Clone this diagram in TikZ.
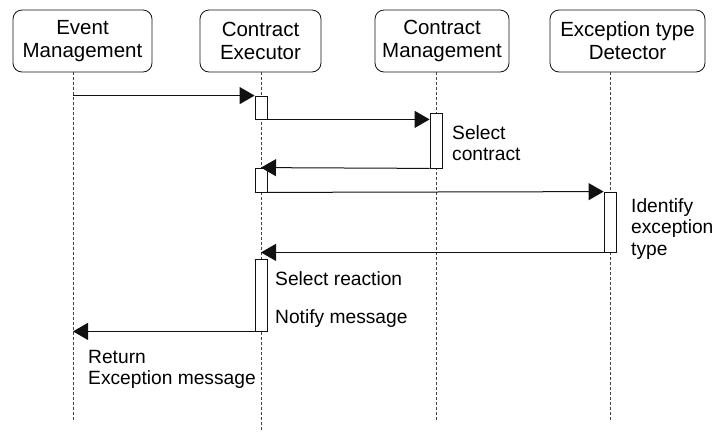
\documentclass[tikz,border=0pt]{standalone}
\usepackage{fontspec}
\setmainfont{Liberation Sans}
\usetikzlibrary{arrows.meta, calc}
\definecolor{InkBlack}{HTML}{111111}
\definecolor{LifeGrey}{HTML}{444444}

\begin{document}
\begin{tikzpicture}[x=1pt, y=-1pt,
    actor/.style={draw=InkBlack, rounded corners=9pt, minimum height=62pt, align=center, inner sep=0pt, line width=0.8pt, font=\fontsize{20.5}{23}\selectfont},
    lifeline/.style={LifeGrey, dash pattern=on 3pt off 2pt, line width=0.8pt},
    activation/.style={draw=InkBlack, fill=white, minimum width=12pt, inner sep=0pt, line width=0.8pt},
    message/.style={InkBlack, line width=1pt, -{Triangle[length=15pt, width=17pt]}},
    note/.style={anchor=north west, align=left, inner sep=0pt, font=\fontsize{19.2}{21.5}\selectfont}]

    \useasboundingbox (0,0) rectangle (713,432);

    % Participants
    \node[actor, minimum width=139pt] (em) at (82.5, 41) {Event\\Management};
    \node[actor, minimum width=121pt] (ce) at (260.5, 41) {Contract\\Executor};
    \node[actor, minimum width=134pt] (cm) at (442, 41) {Contract\\Management};
    \node[actor, minimum width=155pt] (etd) at (627.5, 41) {Exception type\\Detector};

    % Lifelines
    \coordinate (emEnd) at (73, 422);
    \coordinate (ceEnd) at (261, 432);
    \coordinate (cmEnd) at (436, 422);
    \coordinate (etdEnd) at (610, 422);
    \foreach \p in {em, ce, cm, etd} {
        \draw[lifeline] (\p End |- \p.south) -- (\p End);
    }

    % Activations
    \node[activation, minimum height=23pt] (act1) at (261, 107.5) {};
    \node[activation, minimum height=55pt] (act2) at (436, 140.5) {};
    \node[activation, minimum height=24pt] (act3) at (261, 180) {};
    \node[activation, minimum height=60pt] (act4) at (610, 222) {};
    \node[activation, minimum height=72pt] (act5) at (261, 295) {};

    % Messages
    \draw[message] (act1.north west -| emEnd) -- (act1.north west);
    \draw[message] (act1.south east) -- (act1.south east -| act2.west);
    \draw[message] (act2.south west) -- (act3.north);
    \draw[message] (act3.south east) -- (act4.north west);
    \draw[message] (act4.south west) -- (act4.south west -| act5.north);
    \draw[message] (act5.south west) -- (act5.south west -| emEnd);

    % Notes
    \node[note] (selContract) at (452, 125) {Select\\contract};
    \node[note] (identType) at (631, 198) {Identify\\exception\\type};
    \node[note] (selReaction) at (275, 271) {Select reaction};
    \node[note] (notifyMsg) at (275, 309) {Notify message};
    \node[note] (returnMsg) at (88, 350) {Return\\Exception message};
\end{tikzpicture}
\end{document}
